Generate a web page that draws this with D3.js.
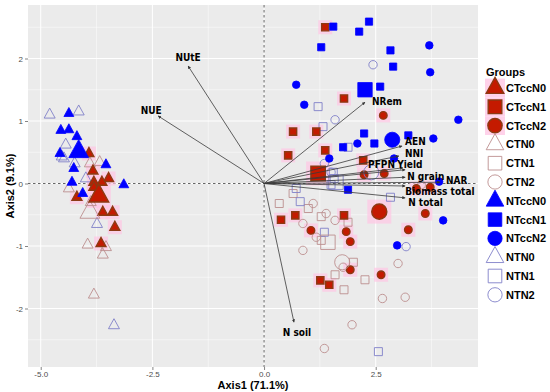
<!DOCTYPE html>
<html>
<head>
<meta charset="utf-8">
<script src="https://cdn.jsdelivr.net/npm/d3@7"></script>
<style>
  body { margin: 0; background: #fff; }
  text { font-family: "Liberation Sans", Arial, sans-serif; }
</style>
</head>
<body>
<svg id="chart" width="550" height="392"></svg>
<script>
// ---- data (PCA scores, Axis1 / Axis2) ----
const groups = ["CTccN0", "CTccN1", "CTccN2", "CTN0", "CTN1", "CTN2",
                "NTccN0", "NTccN1", "NTccN2", "NTN0", "NTN1", "NTN2"];

const CTccN0 = [[-3.92,0.48],[-3.83,0.20],[-3.48,0.08],[-3.63,0.02],[-3.81,0.02],[-3.81,-0.06],
                [-4.19,-0.22],[-3.61,-0.46],[-3.39,-0.46],[-3.34,-0.70],[-3.65,-0.96]];
const CTccN1 = [[1.37,2.50],[1.79,1.36],[0.65,0.83],[1.17,0.83],[1.37,0.53],[0.54,0.45],
                [2.22,0.37],[0.38,-0.58],[0.70,-0.51],[1.79,-0.51],[1.26,-1.55],[1.46,-1.62]];
const CTccN2 = [[2.67,1.09],[2.24,0.14],[2.69,0.16],[3.41,-0.08],[3.72,-0.06],[3.61,-0.48],
                [3.23,-0.74],[1.05,-0.75],[1.84,-0.77],[1.93,-0.93],[1.93,-1.38],[2.62,-1.46]];
const CTN0 = [[-3.90,0.32],[-3.68,0.34],[-4.37,-0.08],[-3.88,-0.30],[-3.95,-0.98],[-3.54,-1.02],
              [-3.61,-1.14],[-3.81,-1.78]];
const CTN1 = [[0.65,-0.16],[0.34,-0.32],[0.99,-0.40],[1.28,-0.53],[1.88,-0.62],[1.28,-0.91],
              [2.00,-1.26],[1.59,-1.46],[2.26,-1.54],[1.79,-1.70]];
const CTN2 = [[1.10,-0.32],[1.39,-0.48],[1.59,-0.59],[0.87,-0.64],[1.17,-0.86],[0.87,-1.07],
              [1.77,-1.34],[3.00,-1.28],[2.65,-1.84],[3.16,-1.82],[1.97,-2.26],[1.35,-2.64],[3.52,-0.02]];
const NTccN0 = [[-4.37,1.12],[-4.55,0.85],[-4.37,0.86],[-4.19,0.75],[-4.57,0.48],[-4.26,0.24],
                [-3.54,0.30],[-4.30,0.02],[-3.14,-0.02],[-4.06,-0.16]];
const NTccN1 = [[1.55,2.51],[2.35,2.59],[2.13,2.43],[1.28,2.18],[2.83,2.13],[2.89,1.87],
                [2.60,1.55],[2.24,0.80],[2.47,0.64],[1.77,0.58],[3.23,0.77],[1.88,-0.10]];
const NTccN2 = [[3.70,2.21],[3.72,1.78],[0.72,1.58],[0.90,1.26],[4.35,1.02],[3.79,0.72],
                [2.09,0.64],[1.46,0.40],[2.91,0.40],[3.92,0.03],[4.01,-0.59],[2.98,-0.99]];
const NTN0 = [[-4.80,1.10],[-4.15,1.15],[-4.44,0.62],[-4.48,0.40],[-4.53,0.43],[-4.24,0.32],
              [-3.99,0.08],[-3.74,-0.65],[-3.36,-2.27]];
const NTN1 = [[1.21,1.23],[1.32,0.91],[1.88,0.58],[1.55,0.18],[1.57,0.08],[0.72,-0.08],
              [1.50,-0.02],[0.81,-0.29],[2.83,-0.22],[1.35,-0.78],[2.56,-2.69]];
const NTN2 = [[2.44,1.90],[1.59,1.02],[3.18,-1.01],[1.50,0.18],[1.35,0.32]];

// group centroids (the large markers), same order as groups
const centroids = [[-3.70,-0.20],[1.21,0.16],[2.58,-0.45],[-3.90,-0.46],[1.43,-0.94],[1.75,-1.26],
                   [-4.15,0.51],[2.26,1.50],[2.87,0.70],null,[1.61,0.02],[2.40,0.18]];

// variable loadings (arrows)
const varNames = ["NUtE","NUE","NRem","AEN","NNI","PFPN","Yield","N grain","NAR","Biomass total","N total","N soil"];
const varX = [-1.70,-2.37,2.26,3.09,3.02,3.11,3.16,3.16,3.94,3.16,3.16,0.67];
const varY = [ 1.88, 1.08,1.30,0.60,0.44,0.25,0.22,0.10,0.02,-0.04,-0.23,-2.22];

const xTicks = [-5, -2.5, 0, 2.5];
const yTicks = [-2, -1, 0, 1, 2];
const xTitle = "Axis1 (71.1%)";
const yTitle = "Axis2 (9.1%)";
const legendTitle = "Groups";

const pointsByGroup = {CTccN0, CTccN1, CTccN2, CTN0, CTN1, CTN2, NTccN0, NTccN1, NTccN2, NTN0, NTN1, NTN2};

// ---- layout & styles ----
const panel = {left: 28, right: 478, top: 5, bottom: 367};
const svg = d3.select("#chart");

const x = d3.scaleLinear().domain([-5.285, 4.79]).range([panel.left, panel.right]);
const y = d3.scaleLinear().domain([-2.936, 2.856]).range([panel.bottom, panel.top]);

function shapeOf(g) { return g.endsWith("0") ? "tri" : g.endsWith("1") ? "sq" : "ci"; }
function styleOf(g) {
    if (g.startsWith("CTcc")) return {fill: "#c41a00", stroke: "#8b3a13", sw: 1.4, halo: true};
    if (g.startsWith("CTN"))  return {fill: "none", stroke: "#bc8f8f", sw: 0.9};
    if (g.startsWith("NTcc")) return {fill: "#0000ff", stroke: "#0000ff", sw: 0.8};
    return {fill: "none", stroke: "#8080c8", sw: 0.9};
}

// symbol outline for a nominal size s (px)
function symbolPath(shape, s) {
    if (shape === "tri") {
        let w = s * 1.1, h = s;
        return `M0,${-h*2/3}L${w/2},${h/3}L${-w/2},${h/3}Z`;
    }
    if (shape === "sq") {
        let a = s * 0.8 / 2;
        return `M${-a},${-a}H${a}V${a}H${-a}Z`;
    }
    let r = s * 0.42;
    return `M${r},0A${r},${r},0,1,1,${-r},0A${r},${r},0,1,1,${r},0Z`;
}

// panel background + grid
svg.append("rect")
    .attr("x", panel.left).attr("y", panel.top)
    .attr("width", panel.right - panel.left).attr("height", panel.bottom - panel.top)
    .attr("fill", "#ebebeb");

let grid = svg.append("g");
let xMinor = xTicks.map(d => d + 1.25).concat([xTicks[0] - 1.25]).filter(d => d > x.domain()[0] && d < x.domain()[1]);
let yMinor = yTicks.map(d => d + 0.5).concat([yTicks[0] - 0.5]).filter(d => d > y.domain()[0] && d < y.domain()[1]);
grid.selectAll(".vmin").data(xMinor).join("line")
    .attr("x1", d => x(d)).attr("x2", d => x(d)).attr("y1", panel.top).attr("y2", panel.bottom)
    .attr("stroke", "#fff").attr("stroke-width", 0.5);
grid.selectAll(".hmin").data(yMinor).join("line")
    .attr("y1", d => y(d)).attr("y2", d => y(d)).attr("x1", panel.left).attr("x2", panel.right)
    .attr("stroke", "#fff").attr("stroke-width", 0.5);
grid.selectAll(".vmaj").data(xTicks).join("line")
    .attr("x1", d => x(d)).attr("x2", d => x(d)).attr("y1", panel.top).attr("y2", panel.bottom)
    .attr("stroke", "#fff").attr("stroke-width", 1);
grid.selectAll(".hmaj").data(yTicks).join("line")
    .attr("y1", d => y(d)).attr("y2", d => y(d)).attr("x1", panel.left).attr("x2", panel.right)
    .attr("stroke", "#fff").attr("stroke-width", 1);

// dashed zero lines
svg.append("line")
    .attr("x1", x(0)).attr("x2", x(0)).attr("y1", panel.top).attr("y2", panel.bottom)
    .attr("stroke", "#555").attr("stroke-width", 0.9).attr("stroke-dasharray", "2.5,2.5");
svg.append("line")
    .attr("y1", y(0)).attr("y2", y(0)).attr("x1", panel.left).attr("x2", panel.right)
    .attr("stroke", "#555").attr("stroke-width", 0.9).attr("stroke-dasharray", "2.5,2.5");

// axes
let xAxis = d3.axisBottom(x).tickValues(xTicks).tickSize(3).tickPadding(1.5).tickFormat(d => d.toFixed(1));
let yAxis = d3.axisLeft(y).tickValues(yTicks).tickSize(3).tickPadding(2).tickFormat(d => String(d));
for (let [ax, tr] of [[xAxis, `translate(0,${panel.bottom})`], [yAxis, `translate(${panel.left},0)`]]) {
    let g = svg.append("g").attr("transform", tr).call(ax);
    g.select(".domain").remove();
    g.selectAll("line").attr("stroke", "#333").attr("stroke-width", 0.6);
    g.selectAll("text").attr("fill", "#4d4d4d").style("font-size", "8px")
        .style("font-family", "'Liberation Sans', Arial, sans-serif");
}

svg.append("text").attr("x", (panel.left + panel.right) / 2).attr("y", 389)
    .attr("text-anchor", "middle").attr("font-weight", "bold").attr("font-size", 11).text(xTitle);
svg.append("text").attr("transform", `translate(14,${(panel.top + panel.bottom) / 2}) rotate(-90)`)
    .attr("text-anchor", "middle").attr("font-weight", "bold").attr("font-size", 11).text(yTitle);

// points: open groups first, then filled; centroids last
let drawOrder = ["CTN0","CTN1","CTN2","NTN0","NTN1","NTN2","CTccN0","CTccN1","CTccN2","NTccN0","NTccN1","NTccN2"];
let pts = [];
drawOrder.forEach(g => pointsByGroup[g].forEach(p => pts.push({g, p, big: false})));
drawOrder.forEach(g => { let c = centroids[groups.indexOf(g)]; if (c) pts.push({g, p: c, big: true}); });

let layer = svg.append("g");
// pink halo around the red markers (as in the source image)
layer.selectAll(".halo").data(pts.filter(d => styleOf(d.g).halo)).join("rect")
    .attr("x", d => x(d.p[0]) - (d.big ? 12 : 7)).attr("y", d => y(d.p[1]) - (d.big ? 12 : 7))
    .attr("width", d => d.big ? 24 : 14).attr("height", d => d.big ? 24 : 14)
    .attr("fill", "#ffc6e4").attr("opacity", 0.7);
layer.selectAll(".pt").data(pts).join("path")
    .attr("transform", d => `translate(${x(d.p[0])},${y(d.p[1])})`)
    .attr("d", d => symbolPath(shapeOf(d.g), d.big ? 18 : (styleOf(d.g).fill === "none" ? 10 : 9)))
    .attr("fill", d => styleOf(d.g).fill)
    .attr("stroke", d => styleOf(d.g).stroke)
    .attr("stroke-width", d => styleOf(d.g).sw);

// arrows
svg.append("defs").append("marker")
    .attr("id", "ah").attr("viewBox", "0 0 10 10").attr("refX", 9).attr("refY", 5)
    .attr("markerWidth", 4).attr("markerHeight", 4).attr("orient", "auto")
    .append("path").attr("d", "M0,0L10,5L0,10Z").attr("fill", "#333");

let labelPos = {
    "NUtE": [0, -5, "middle"], "NUE": [-7, -2, "middle"], "NRem": [7, 3, "start"],
    "AEN": [3, -1.5, "start"], "NNI": [6, 0.5, "start"], "PFPN": [-8, 0, "end"],
    "Yield": [-8, -2, "start"], "N grain": [2, 3, "start"], "NAR": [6, 2, "start"],
    "Biomass total": [0, 8.5, "start"], "N total": [3, 8, "start"], "N soil": [3, 14, "middle"]
};
let vars = varNames.map((n, i) => ({n, vx: varX[i], vy: varY[i]}));
let arrows = svg.append("g");
arrows.selectAll("line").data(vars).join("line")
    .attr("x1", x(0)).attr("y1", y(0))
    .attr("x2", d => x(d.vx)).attr("y2", d => y(d.vy))
    .attr("stroke", "#3a3a3a").attr("stroke-width", 0.8)
    .attr("marker-end", "url(#ah)");
arrows.selectAll("text").data(vars).join("text")
    .attr("x", d => x(d.vx) + labelPos[d.n][0])
    .attr("y", d => y(d.vy) + labelPos[d.n][1])
    .attr("text-anchor", d => labelPos[d.n][2])
    .attr("font-weight", "bold").attr("font-size", 10)
    .style("font-family", "'Liberation Sans Narrow', 'DejaVu Sans Condensed', 'Liberation Sans', sans-serif")
    .text(d => d.n);

// legend
let legend = svg.append("g");
legend.append("text").attr("x", 486).attr("y", 76).attr("font-weight", "bold").attr("font-size", 11).text(legendTitle);
let rows = legend.selectAll(".row").data(groups).join("g")
    .attr("transform", (d, i) => `translate(495,${88 + i * 18.8})`);
rows.filter(d => styleOf(d).halo).append("rect")
    .attr("x", -10).attr("y", -9.4).attr("width", 20).attr("height", 18.8).attr("fill", "#ffd2ea");
rows.append("path")
    .attr("d", d => symbolPath(shapeOf(d), shapeOf(d) === "tri" ? 16 : 17))
    .attr("fill", d => styleOf(d).fill)
    .attr("stroke", d => styleOf(d).stroke)
    .attr("stroke-width", d => styleOf(d).sw);
rows.append("text").attr("x", 11).attr("dy", "0.36em")
    .attr("font-weight", "bold").attr("font-size", 11).text(d => d);
</script>
</body>
</html>
